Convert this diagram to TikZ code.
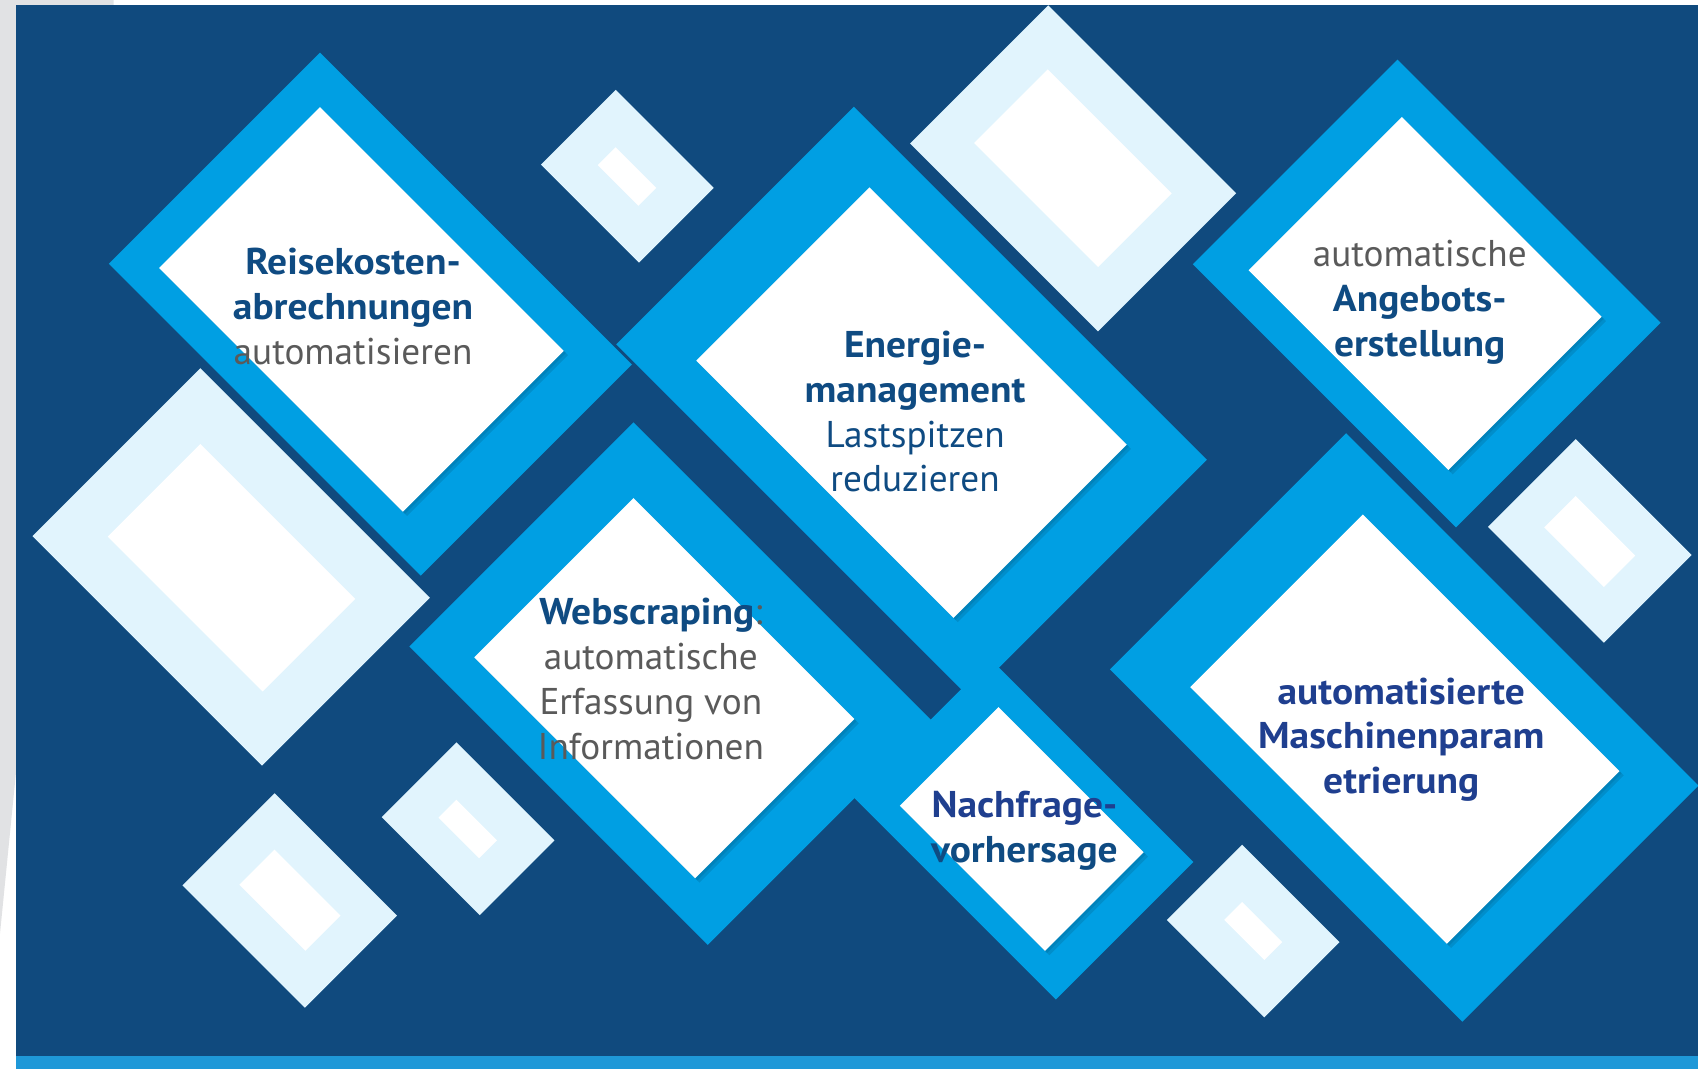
\documentclass[tikz,border=0pt]{standalone}
\usepackage{fontspec}
\setmainfont{PT Sans}[BoldFeatures={FakeStretch=1.06}]
\definecolor{bgdark}{HTML}{104A7E}
\definecolor{stripblue}{HTML}{1E98D8}
\definecolor{edgegray}{HTML}{E1E2E4}
\definecolor{bright}{HTML}{009FE3}
\definecolor{pale}{HTML}{E1F4FD}
\definecolor{tblue}{HTML}{0F4B82}
\definecolor{tindigo}{HTML}{1F3F8F}
\definecolor{tgray}{HTML}{5A5A5A}
% rhombus: top vertex (#2,#3), extent a=#4 towards lower-left, b=#5 towards lower-right
\newcommand{\rh}[5]{\fill[#1] (#2,#3) -- ++(-#4,#4) -- ++(#5,#5) -- ++(#4,-#4) -- cycle;}
\newcommand{\whiteRh}[4]{%
  \fill[black,opacity=0.10] (#1+4,#2+4) -- ++(-#3,#3) -- ++(#4,#4) -- ++(#3,-#3) -- cycle;
  \fill[black,opacity=0.08] (#1+2,#2+2) -- ++(-#3,#3) -- ++(#4,#4) -- ++(#3,-#3) -- cycle;
  \fill[white] (#1,#2) -- ++(-#3,#3) -- ++(#4,#4) -- ++(#3,-#3) -- cycle;}
\tikzset{lbl/.style={align=center,inner sep=0pt,font=\fontsize{17.2}{20.75}\selectfont}}
\begin{document}
\begin{tikzpicture}[x=0.5pt,y=-0.5pt]
\useasboundingbox (0,0) rectangle (1568,987);
% background
\fill[white] (0,0) rectangle (1568,987);
\fill[edgegray] (0,0) -- (105,0) -- (105,5) -- (15,5) -- (15,711) -- (0,862) -- cycle;
\fill[bgdark] (15,5) rectangle (1568,975);
\fill[stripblue] (15,975) rectangle (1568,987);
% pale decorative diamonds
\rh{pale}{185}{340}{155}{212}
\rh{white}{185}{410}{85.5}{143}
\rh{pale}{968}{5}{127.5}{173.5}
\rh{white}{967.5}{64}{68}{114.5}
\rh{pale}{568.5}{83}{69}{90.5}
\rh{white}{568.5}{136}{16.5}{37.5}
\rh{pale}{421.5}{685.5}{69}{90.5}
\rh{white}{421.5}{738.5}{16.5}{37.5}
\rh{pale}{1147}{780}{69.5}{90}
\rh{white}{1147}{833}{16.5}{37}
\rh{pale}{253.5}{732.5}{85}{113}
\rh{white}{253.5}{784.5}{32.5}{61}
\rh{pale}{1455}{405.5}{81}{107}
\rh{white}{1455}{458}{29}{55}
% bright blue frames
\rh{bright}{295.5}{48.5}{195}{288}
\rh{bright}{788.5}{98.5}{219.5}{326}
\rh{bright}{1290.5}{55}{189}{243}
\rh{bright}{585}{390}{207}{275.5}
\rh{bright}{1243}{400}{218}{325.5}
\rh{bright}{915}{609}{127}{187}
% white panels
\whiteRh{295.5}{99}{148.5}{225}
\whiteRh{803}{173}{160}{237.5}
\whiteRh{1294.5}{108}{141.5}{184.5}
\whiteRh{585}{460}{147}{204}
\whiteRh{1258.5}{475}{159.5}{237}
\whiteRh{922}{653}{91}{134}
% texts
\node[lbl] (reise) at (326,283) {\textcolor{tblue}{\textbf{Reisekosten-}}\\\textcolor{tblue}{\textbf{abrechnungen}}\\\textcolor{tgray}{automatisieren}};
\node[lbl] (energie) at (845,380) {\textcolor{tblue}{\textbf{Energie-}}\\\textcolor{tblue}{\textbf{management}}\\\textcolor{tblue}{Lastspitzen}\\\textcolor{tblue}{reduzieren}};
\node[lbl] (angebot) at (1311,279) {\textcolor{tgray}{automatische}\\\textcolor{tblue}{\textbf{Angebots-}}\\\textcolor{tblue}{\textbf{erstellung}}};
\node[lbl] (web) at (601,627) {\textcolor{tblue}{\textbf{Webscraping}}\textcolor{tgray}{:}\\\textcolor{tgray}{automatische}\\\textcolor{tgray}{Erfassung von}\\\textcolor{tgray}{Informationen}};
\node[lbl] (nachfrage) at (946,767) {\textcolor{tindigo}{\textbf{Nachfrage-}}\\\textcolor{tblue}{\textbf{vorhersage}}};
\node[lbl] (maschine) at (1294,683) {\textcolor{tindigo}{\textbf{automatisierte}}\\\textcolor{tindigo}{\textbf{Maschinenparam}}\\\textcolor{tindigo}{\textbf{etrierung}}};
\end{tikzpicture}
\end{document}
